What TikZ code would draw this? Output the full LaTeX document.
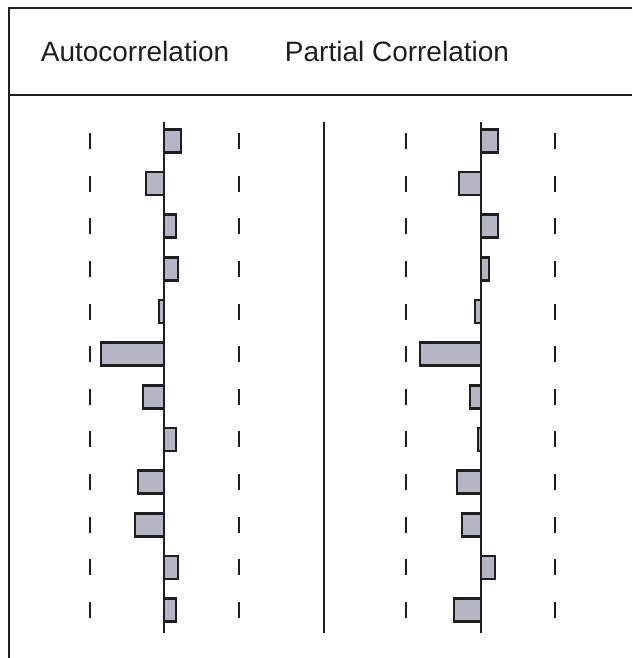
\documentclass[tikz,border=0pt]{standalone}
\usepackage{fontspec}
\setmainfont{Liberation Sans}
\usepackage{xcolor}
\definecolor{ink}{RGB}{30,30,30}
\definecolor{barfill}{RGB}{180,182,198}

\begin{document}
\begin{tikzpicture}[x=1pt,y=-1pt,
  frame/.style={draw=ink,line width=2.2pt},
  zero/.style={draw=ink,line width=2.2pt},
  band/.style={draw=ink,line width=2.6pt},
  bar/.style={draw=ink,fill=barfill,line width=2.6pt},
  heading/.style={font=\fontsize{28}{32}\selectfont,text=ink,
    inner sep=0pt,anchor=base}]

  \useasboundingbox (0,0) rectangle (632,658);

  % frame and header
  \draw[frame] (632,8) -- (9,8) -- (9,658);
  \draw[frame] (9,95) -- (632,95);
  \node[heading] (acf) at (135,62) {Autocorrelation};
  \node[heading] (pacf) at (397,62) {Partial Correlation};
  \draw[frame] (324,122) -- (324,633);

  % confidence bands
  \foreach \x in {90,239,406,555}
    \foreach \k in {0,...,11}
      \draw[band] (\x,{133+\k*42.64}) -- ++(0,16);

  % autocorrelation bars
  \foreach \v [count=\k] in {17,-18,12,14,-5,-63,-21,12,-26,-29,14,12}
    \draw[bar] (164,{141+(\k-1)*42.64-11.5}) rectangle ++(\v,23);
  \draw[zero] (164,122) -- (164,633);

  % partial correlation bars
  \foreach \v [count=\k] in {17,-22,17,8,-6,-61,-11,-3,-24,-19,14,-27}
    \draw[bar] (481,{141+(\k-1)*42.64-11.5}) rectangle ++(\v,23);
  \draw[zero] (481,122) -- (481,633);

\end{tikzpicture}
\end{document}
